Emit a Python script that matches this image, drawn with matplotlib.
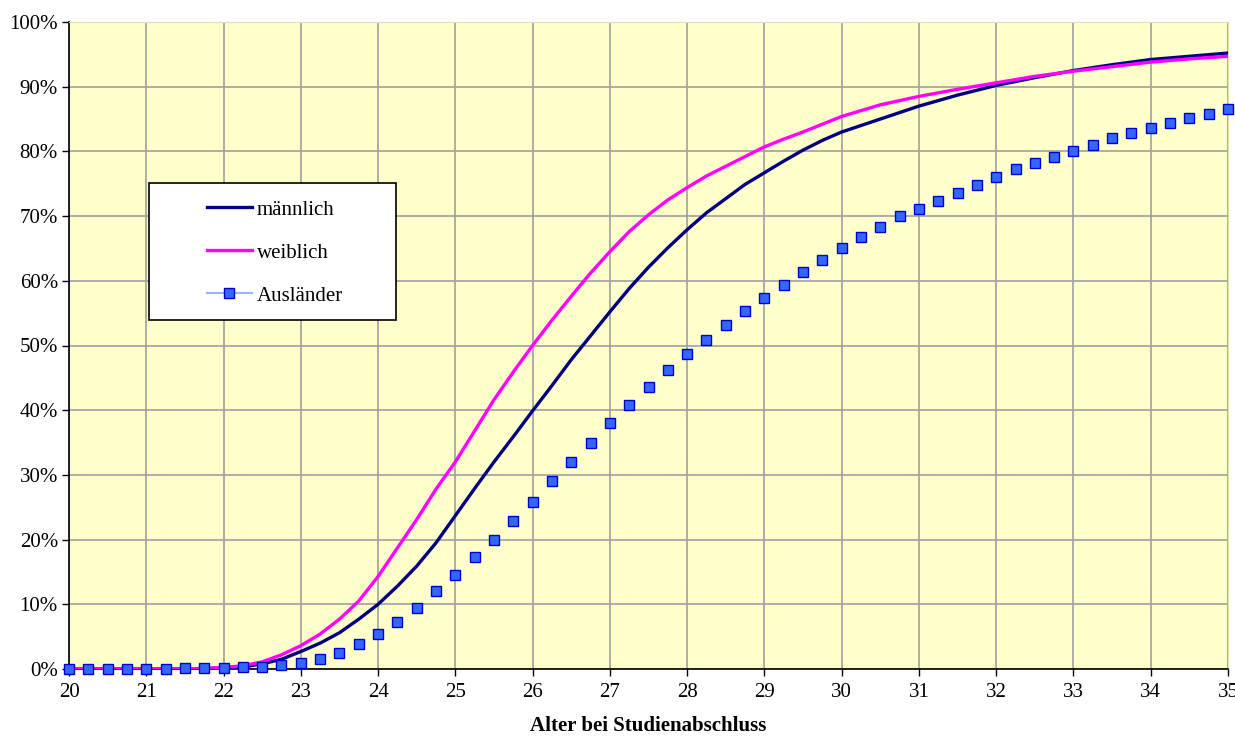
import numpy as np
import matplotlib
matplotlib.use("Agg")
import matplotlib.pyplot as plt
from matplotlib.lines import Line2D
from matplotlib.patches import Rectangle
from matplotlib.ticker import FuncFormatter

plt.rcParams['font.family'] = ['Liberation Serif', 'DejaVu Serif']

# age grid for the two smooth curves (quarter steps up to 30, then half steps)
alter = [20, 20.25, 20.5, 20.75, 21, 21.25, 21.5, 21.75, 22, 22.25, 22.5, 22.75,
         23, 23.25, 23.5, 23.75, 24, 24.25, 24.5, 24.75, 25, 25.25, 25.5, 25.75,
         26, 26.25, 26.5, 26.75, 27, 27.25, 27.5, 27.75, 28, 28.25, 28.5, 28.75,
         29, 29.25, 29.5, 29.75, 30, 30.5, 31, 31.5, 32, 32.5, 33, 33.5, 34,
         34.5, 35]
maennlich = [0, 0, 0, 0, 0, 0, 0, 0.05, 0.15, 0.3, 0.8, 1.5,
             2.7, 4.0, 5.6, 7.7, 10.0, 12.8, 15.9, 19.5, 23.7, 27.9, 32.0, 35.9,
             39.9, 43.8, 47.8, 51.5, 55.2, 58.8, 62.1, 65.1, 67.9, 70.5, 72.7, 74.9,
             76.7, 78.5, 80.2, 81.7, 83.0, 85.0, 87.0, 88.7, 90.2, 91.4, 92.5, 93.4,
             94.2, 94.7, 95.2]
weiblich = [0, 0, 0, 0, 0, 0, 0, 0.1, 0.25, 0.5, 1.1, 2.2,
            3.6, 5.4, 7.7, 10.5, 14.3, 18.7, 23.1, 27.8, 32.0, 36.8, 41.6, 45.9,
            50.0, 53.9, 57.6, 61.2, 64.5, 67.6, 70.2, 72.5, 74.4, 76.2, 77.7, 79.2,
            80.7, 81.9, 83.0, 84.2, 85.4, 87.2, 88.5, 89.6, 90.6, 91.6, 92.4, 93.1,
            93.8, 94.3, 94.7]

# Auslaender: quarter-year steps
alter_aus = [20 + 0.25 * i for i in range(61)]
auslaender = [0, 0, 0, 0, 0, 0, 0.1, 0.1, 0.2, 0.3,
              0.3, 0.6, 1.0, 1.5, 2.5, 3.8, 5.4, 7.3, 9.5, 12.0,
              14.5, 17.3, 19.9, 22.9, 25.8, 29.1, 32.0, 34.9, 38.0, 40.8,
              43.6, 46.2, 48.7, 50.9, 53.2, 55.3, 57.3, 59.3, 61.3, 63.2,
              65.1, 66.8, 68.3, 70.0, 71.1, 72.3, 73.6, 74.8, 76.0, 77.3,
              78.2, 79.1, 80.1, 81.0, 82.1, 82.8, 83.6, 84.4, 85.2, 85.8,
              86.6]

fig = plt.figure(figsize=(12.35, 7.36), dpi=100)
ax = fig.add_axes([69 / 1235, 1 - 669 / 736, 1159 / 1235, 647 / 736])
ax.set_facecolor('#FFFFCC')

ax.plot(alter, maennlich, color='#000080', lw=2.4, zorder=3)
ax.plot(alter, weiblich, color='#FF00FF', lw=2.4, zorder=3)
ax.plot(alter_aus, auslaender, ls='none', marker='s', ms=7.5,
        mfc='#3366FF', mec='#0000CC', mew=1.0, zorder=4, clip_on=False)

ax.set_xlim(20, 35)
ax.set_ylim(0, 100)
ax.set_xticks(range(20, 36))
ax.set_yticks(range(0, 101, 10))
ax.yaxis.set_major_formatter(FuncFormatter(lambda v, p: f"{int(v)}%"))
ax.grid(True, color='#A0A0A0', lw=1.2)
ax.set_axisbelow(True)
ax.tick_params(direction='out', length=5, width=1, labelsize=15, colors='black')
ax.tick_params(axis='x', pad=5)
ax.tick_params(axis='y', pad=3)
for s in ['top', 'right']:
    ax.spines[s].set_color('#E0E0B0')
for s in ['left', 'bottom']:
    ax.spines[s].set_color('black')
    ax.spines[s].set_linewidth(1.2)

ax.set_xlabel('Alter bei Studienabschluss', fontsize=15, fontweight='bold', labelpad=10)

# legend box drawn by hand, legend entries placed inside it
box = Rectangle((0.069, 0.539), 0.213, 0.212, transform=ax.transAxes,
                facecolor='white', edgecolor='black', lw=1.2, zorder=5)
ax.add_patch(box)

handles = [
    Line2D([], [], color='#000080', lw=2.4),
    Line2D([], [], color='#FF00FF', lw=2.4),
    Line2D([], [], color='#99B3FF', lw=1.5, marker='s', ms=7.5,
           mfc='#3366FF', mec='#0000CC'),
]
leg = ax.legend(handles, ['männlich', 'weiblich', 'Ausländer'],
                loc='upper left', bbox_to_anchor=(0.119, 0.725),
                fontsize=15, frameon=False, labelspacing=1.13, borderpad=0,
                handlelength=2.15, handletextpad=0.25, borderaxespad=0)
leg.set_zorder(6)

fig.savefig('out.png', dpi=100)
